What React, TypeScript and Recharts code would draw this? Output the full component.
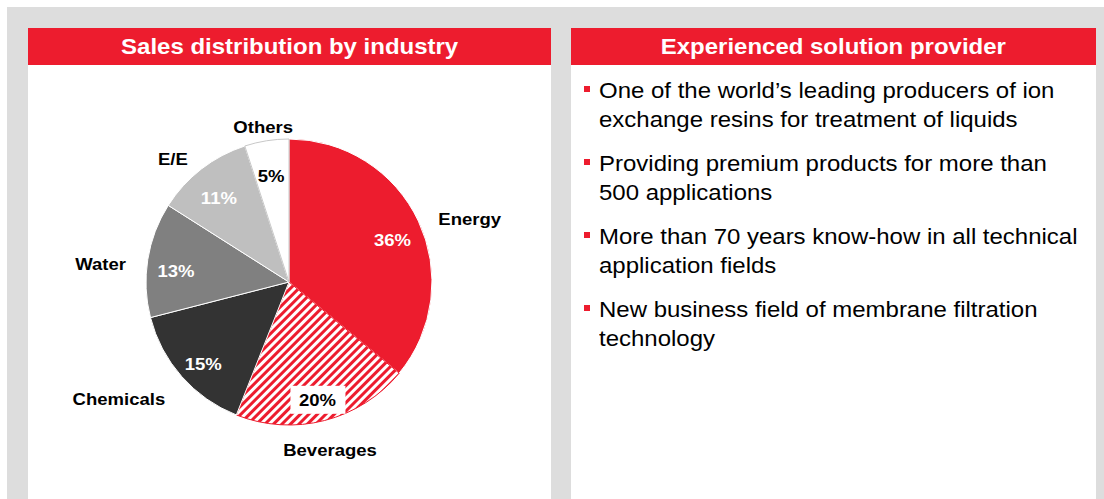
import React from 'react';
import { PieChart, Pie, Cell } from 'recharts';

const categories = ['Energy', 'Beverages', 'Chemicals', 'Water', 'E/E', 'Others'];
const shares = [36, 20, 15, 13, 11, 5];
const leftTitle = 'Sales distribution by industry';
const rightTitle = 'Experienced solution provider';
const bulletPoints: string[][] = [
  ['One of the world\u2019s leading producers of ion', 'exchange resins for treatment of liquids'],
  ['Providing premium products for more than', '500 applications'],
  ['More than 70 years know-how in all technical', 'application fields'],
  ['New business field of membrane filtration', 'technology'],
];

const RED = '#ED1C2E';
const sliceFills = [RED, 'url(#bevStripes)', '#333333', '#808080', '#bfbfbf', '#ffffff'];
const sliceStrokes = ['#ffffff', RED, '#ffffff', '#ffffff', '#ffffff', '#c8c8c8'];
const pctColors = ['#ffffff', '#000000', '#ffffff', '#ffffff', '#ffffff', '#000000'];

const data = categories.map((name, i) => ({ name, value: shares[i] }));

const RAD = Math.PI / 180;
const SX = 1.09;
const FONT = '"Liberation Sans", Arial, Helvetica, sans-serif';

const renderLabel = (props: any) => {
  const { cx, cy, midAngle, outerRadius } = props;
  const name = props.name ?? props.payload?.name;
  const idx = categories.indexOf(name);
  const cos = Math.cos(-midAngle * RAD);
  const sin = Math.sin(-midAngle * RAD);
  const ri = outerRadius * 0.8;
  const ix = cx + ri * cos;
  const iy = cy + ri * sin + 7;
  const ro = outerRadius + 22;
  const ox = cx + ro * cos;
  const oy = cy + ro * sin + 8;
  const anchor = Math.abs(cos) < 0.35 ? 'middle' : cos > 0 ? 'start' : 'end';
  return (
    <g key={`lbl-${name}`}>
      {idx === 1 && (
        <rect x={ix - 27} y={iy - 14} width={55} height={28} fill="#ffffff" />
      )}
      <text
        transform={`translate(${ix},${iy}) scale(${SX},1)`}
        textAnchor="middle"
        dominantBaseline="central"
        fontSize={17}
        fontWeight={700}
        fontFamily={FONT}
        fill={pctColors[idx]}
      >
        {`${shares[idx]}%`}
      </text>
      <text
        transform={`translate(${ox},${oy}) scale(${SX},1)`}
        textAnchor={anchor}
        dominantBaseline="central"
        fontSize={17}
        fontWeight={700}
        fontFamily={FONT}
        fill="#000000"
      >
        {name}
      </text>
    </g>
  );
};

const headerStyle: React.CSSProperties = {
  height: 37,
  background: RED,
  color: '#ffffff',
  fontWeight: 700,
  fontSize: 22,
  lineHeight: '37px',
  textAlign: 'center',
  whiteSpace: 'nowrap',
};

export default function App() {
  return (
    <div
      style={{
        position: 'absolute',
        left: 0,
        top: 0,
        width: 1104,
        height: 499,
        background: '#ffffff',
        overflow: 'hidden',
        fontFamily: FONT,
      }}
    >
      <svg width={0} height={0} style={{ position: 'absolute' }}>
        <defs>
          <pattern
            id="bevStripes"
            patternUnits="userSpaceOnUse"
            width={6}
            height={6}
            patternTransform="rotate(45)"
          >
            <rect x={0} y={0} width={6} height={6} fill="#ffffff" />
            <rect x={0} y={0} width={3} height={6} fill={RED} />
          </pattern>
        </defs>
      </svg>
      <div style={{ position: 'absolute', left: 7, top: 7, width: 1097, height: 492, background: '#dddddd' }} />

      <div style={{ position: 'absolute', left: 28, top: 28, width: 523, height: 471, background: '#ffffff' }}>
        <div style={headerStyle}>
          <span style={{ display: 'inline-block', transform: `scaleX(${SX})` }}>{leftTitle}</span>
        </div>
        <PieChart width={523} height={434} margin={{ top: 0, right: 0, bottom: 0, left: 0 }}>
          <Pie
            data={data}
            dataKey="value"
            nameKey="name"
            cx={261}
            cy={217}
            outerRadius={143}
            startAngle={90}
            endAngle={-270}
            isAnimationActive={false}
            label={renderLabel}
            labelLine={false}
          >
            {data.map((d, i) => (
              <Cell key={d.name} fill={sliceFills[i]} stroke={sliceStrokes[i]} strokeWidth={1} />
            ))}
          </Pie>
        </PieChart>
      </div>

      <div style={{ position: 'absolute', left: 571, top: 28, width: 525, height: 471, background: '#ffffff' }}>
        <div style={headerStyle}>
          <span style={{ display: 'inline-block', transform: `scaleX(${SX})` }}>{rightTitle}</span>
        </div>
        <div style={{ position: 'absolute', left: 28, top: 48 }}>
          {bulletPoints.map((lines, i) => (
            <div key={i} style={{ position: 'relative', marginBottom: 15 }}>
              <div
                style={{ position: 'absolute', left: -15, top: 10, width: 6, height: 6, background: RED }}
              />
              {lines.map((ln, j) => (
                <div
                  key={j}
                  style={{
                    height: 29,
                    lineHeight: '29px',
                    fontSize: 22,
                    color: '#000000',
                    whiteSpace: 'nowrap',
                    transform: `scaleX(${SX})`,
                    transformOrigin: 'left center',
                  }}
                >
                  {ln}
                </div>
              ))}
            </div>
          ))}
        </div>
      </div>
    </div>
  );
}
